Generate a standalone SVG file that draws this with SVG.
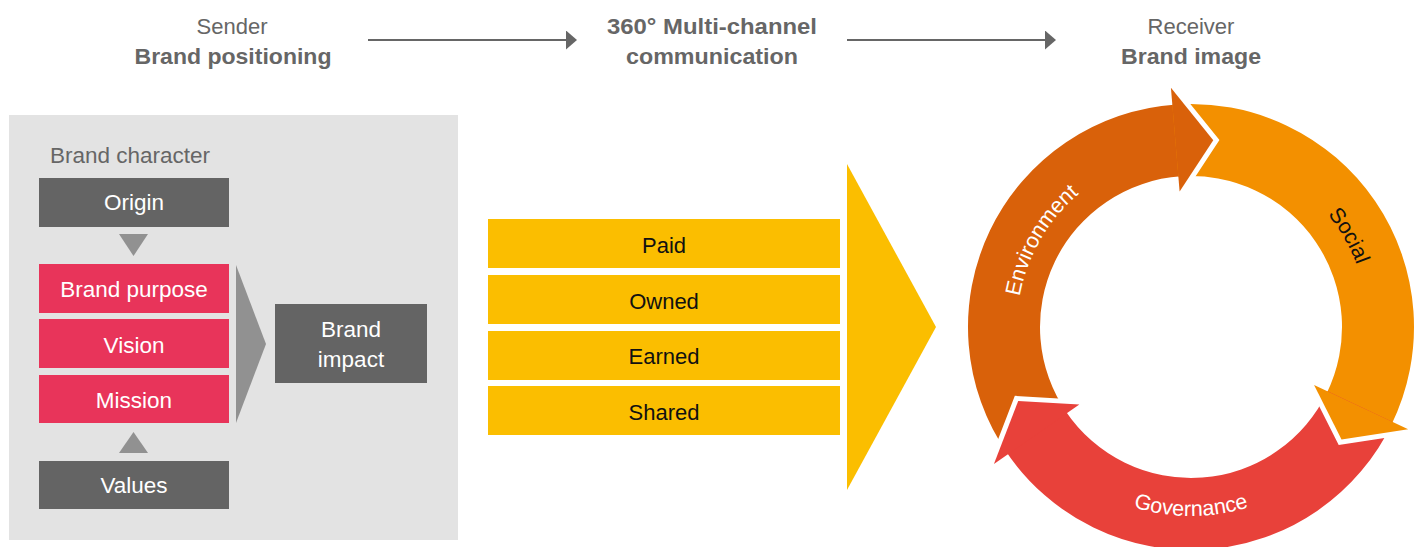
<svg xmlns="http://www.w3.org/2000/svg" width="1426" height="547" viewBox="0 0 1426 547">
<defs>
<style>
text{font-family:"Liberation Sans",Arial,Helvetica,sans-serif;}
.hd{font-size:22px;fill:#666;text-anchor:middle;}
.hb{font-size:22.5px;fill:#666;font-weight:bold;text-anchor:middle;}
.wt{font-size:22.5px;fill:#fff;text-anchor:middle;}
.bt{font-size:22px;fill:#111;text-anchor:middle;}
.dk{fill:#646464;}
.pk{fill:#E8345A;}
.yl{fill:#FBBE00;}
.tri{fill:#919191;}
.cl{font-size:21.5px;}
.wst{fill:none;stroke:#fff;stroke-width:10;stroke-linejoin:miter;stroke-miterlimit:10;}
</style>
<marker id="ah" viewBox="0 0 11 19" refX="0" refY="9.5" markerWidth="11" markerHeight="19" markerUnits="userSpaceOnUse" orient="auto">
<path d="M0 0 L11 9.5 L0 19 Z" fill="#666"/>
</marker>
<path id="pEnv" d="M 1040.38 414 A 174 174 0 0 1 1191 153"/>
<path id="pSoc" d="M 1191 150 A 177 177 0 0 1 1344.29 415.5"/>
<path id="pGov" d="M 1026.46 422 A 191 191 0 0 0 1355.54 422"/>
</defs>

<g id="header-sender">
<text class="hd" x="232" y="34">Sender</text>
<text class="hb" x="233" y="63.5" textLength="197" lengthAdjust="spacingAndGlyphs">Brand positioning</text>
</g>
<g id="header-channel">
<text class="hb" x="712" y="34" textLength="210" lengthAdjust="spacingAndGlyphs">360° Multi-channel</text>
<text class="hb" x="712" y="63.5" textLength="172" lengthAdjust="spacingAndGlyphs">communication</text>
</g>
<g id="header-receiver">
<text class="hd" x="1191" y="34">Receiver</text>
<text class="hb" x="1191" y="63.5" textLength="140" lengthAdjust="spacingAndGlyphs">Brand image</text>
</g>

<g id="brand-character">
<rect x="9" y="115" width="449" height="425" fill="#E3E3E3"/>
<text x="50" y="163" style="font-size:22.5px;fill:#666;">Brand character</text>
</g>
<g id="origin">
<rect class="dk" x="39" y="178" width="190" height="49"/>
<text class="wt" x="134" y="210">Origin</text>
</g>
<g id="brand-purpose">
<rect class="pk" x="39" y="264" width="190" height="49"/>
<text class="wt" x="134" y="297">Brand purpose</text>
</g>
<g id="vision">
<rect class="pk" x="39" y="319" width="190" height="49"/>
<text class="wt" x="134" y="353">Vision</text>
</g>
<g id="mission">
<rect class="pk" x="39" y="375" width="190" height="48"/>
<text class="wt" x="134" y="407.5">Mission</text>
</g>
<g id="values">
<rect class="dk" x="39" y="461" width="190" height="48"/>
<text class="wt" x="134" y="493">Values</text>
</g>
<g id="brand-impact">
<rect class="dk" x="275" y="304" width="152" height="79"/>
<text class="wt" x="351" y="337">Brand</text>
<text class="wt" x="351" y="367">impact</text>
</g>

<g id="paid">
<rect class="yl" x="488" y="219" width="352" height="49"/>
<text class="bt" x="664" y="253">Paid</text>
</g>
<g id="owned">
<rect class="yl" x="488" y="275" width="352" height="49"/>
<text class="bt" x="664" y="308.5">Owned</text>
</g>
<g id="earned">
<rect class="yl" x="488" y="331" width="352" height="49"/>
<text class="bt" x="664" y="363.5">Earned</text>
</g>
<g id="shared">
<rect class="yl" x="488" y="386" width="352" height="49"/>
<text class="bt" x="664" y="419.5">Shared</text>
</g>

<g id="connectors">
<line x1="368" y1="40" x2="566" y2="40" stroke="#666" stroke-width="2" marker-end="url(#ah)"/>
<line x1="847" y1="40" x2="1045" y2="40" stroke="#666" stroke-width="2" marker-end="url(#ah)"/>
<polygon class="tri" points="119,234 148,234 133.5,256"/>
<polygon class="tri" points="133.5,432 148,453 119,453"/>
<polygon class="tri" points="236,265 266,344 236,423"/>
<polygon class="yl" points="847,164 936,327 847,490"/>
</g>

<g id="esg-cycle">
<path d="M 1007.88 454.27 A 223 223 0 0 1 1176.22 104.49 L 1180.99 176.33 A 151 151 0 0 0 1067.01 413.18 Z" fill="#D9610A"/>
<path d="M 1172.34 104.78 A 223 223 0 0 1 1391.09 425.46 L 1326.49 393.67 A 151 151 0 0 0 1178.36 176.53 Z" fill="#F39000"/>
<path d="M 1392.78 421.95 A 223 223 0 0 1 1005.70 451.05 L 1065.53 411.00 A 151 151 0 0 0 1327.63 391.29 Z" fill="#E8413A"/>
<polyline class="wst" points="1170.92,87.84 1213.26,140.32 1179.62,191.48"/>
<polygon points="1170.92,87.84 1213.26,140.32 1179.62,191.48" fill="#D9610A"/>
<polyline class="wst" points="1408.16,429.19 1341.54,439.62 1314.06,384.91"/>
<polygon points="1408.16,429.19 1341.54,439.62 1314.06,384.91" fill="#F39000"/>
<polyline class="wst" points="993.92,463.97 1018.20,401.06 1079.32,404.62"/>
<polygon points="993.92,463.97 1018.20,401.06 1079.32,404.62" fill="#E8413A"/>
</g>
<g id="environment">
<text class="cl" fill="#fff" text-anchor="middle"><textPath href="#pEnv" startOffset="50%">Environment</textPath></text>
</g>
<g id="social">
<text class="cl" fill="#111" text-anchor="middle"><textPath href="#pSoc" startOffset="50%">Social</textPath></text>
</g>
<g id="governance">
<text class="cl" fill="#fff" text-anchor="middle"><textPath href="#pGov" startOffset="50%">Governance</textPath></text>
</g>
</svg>
